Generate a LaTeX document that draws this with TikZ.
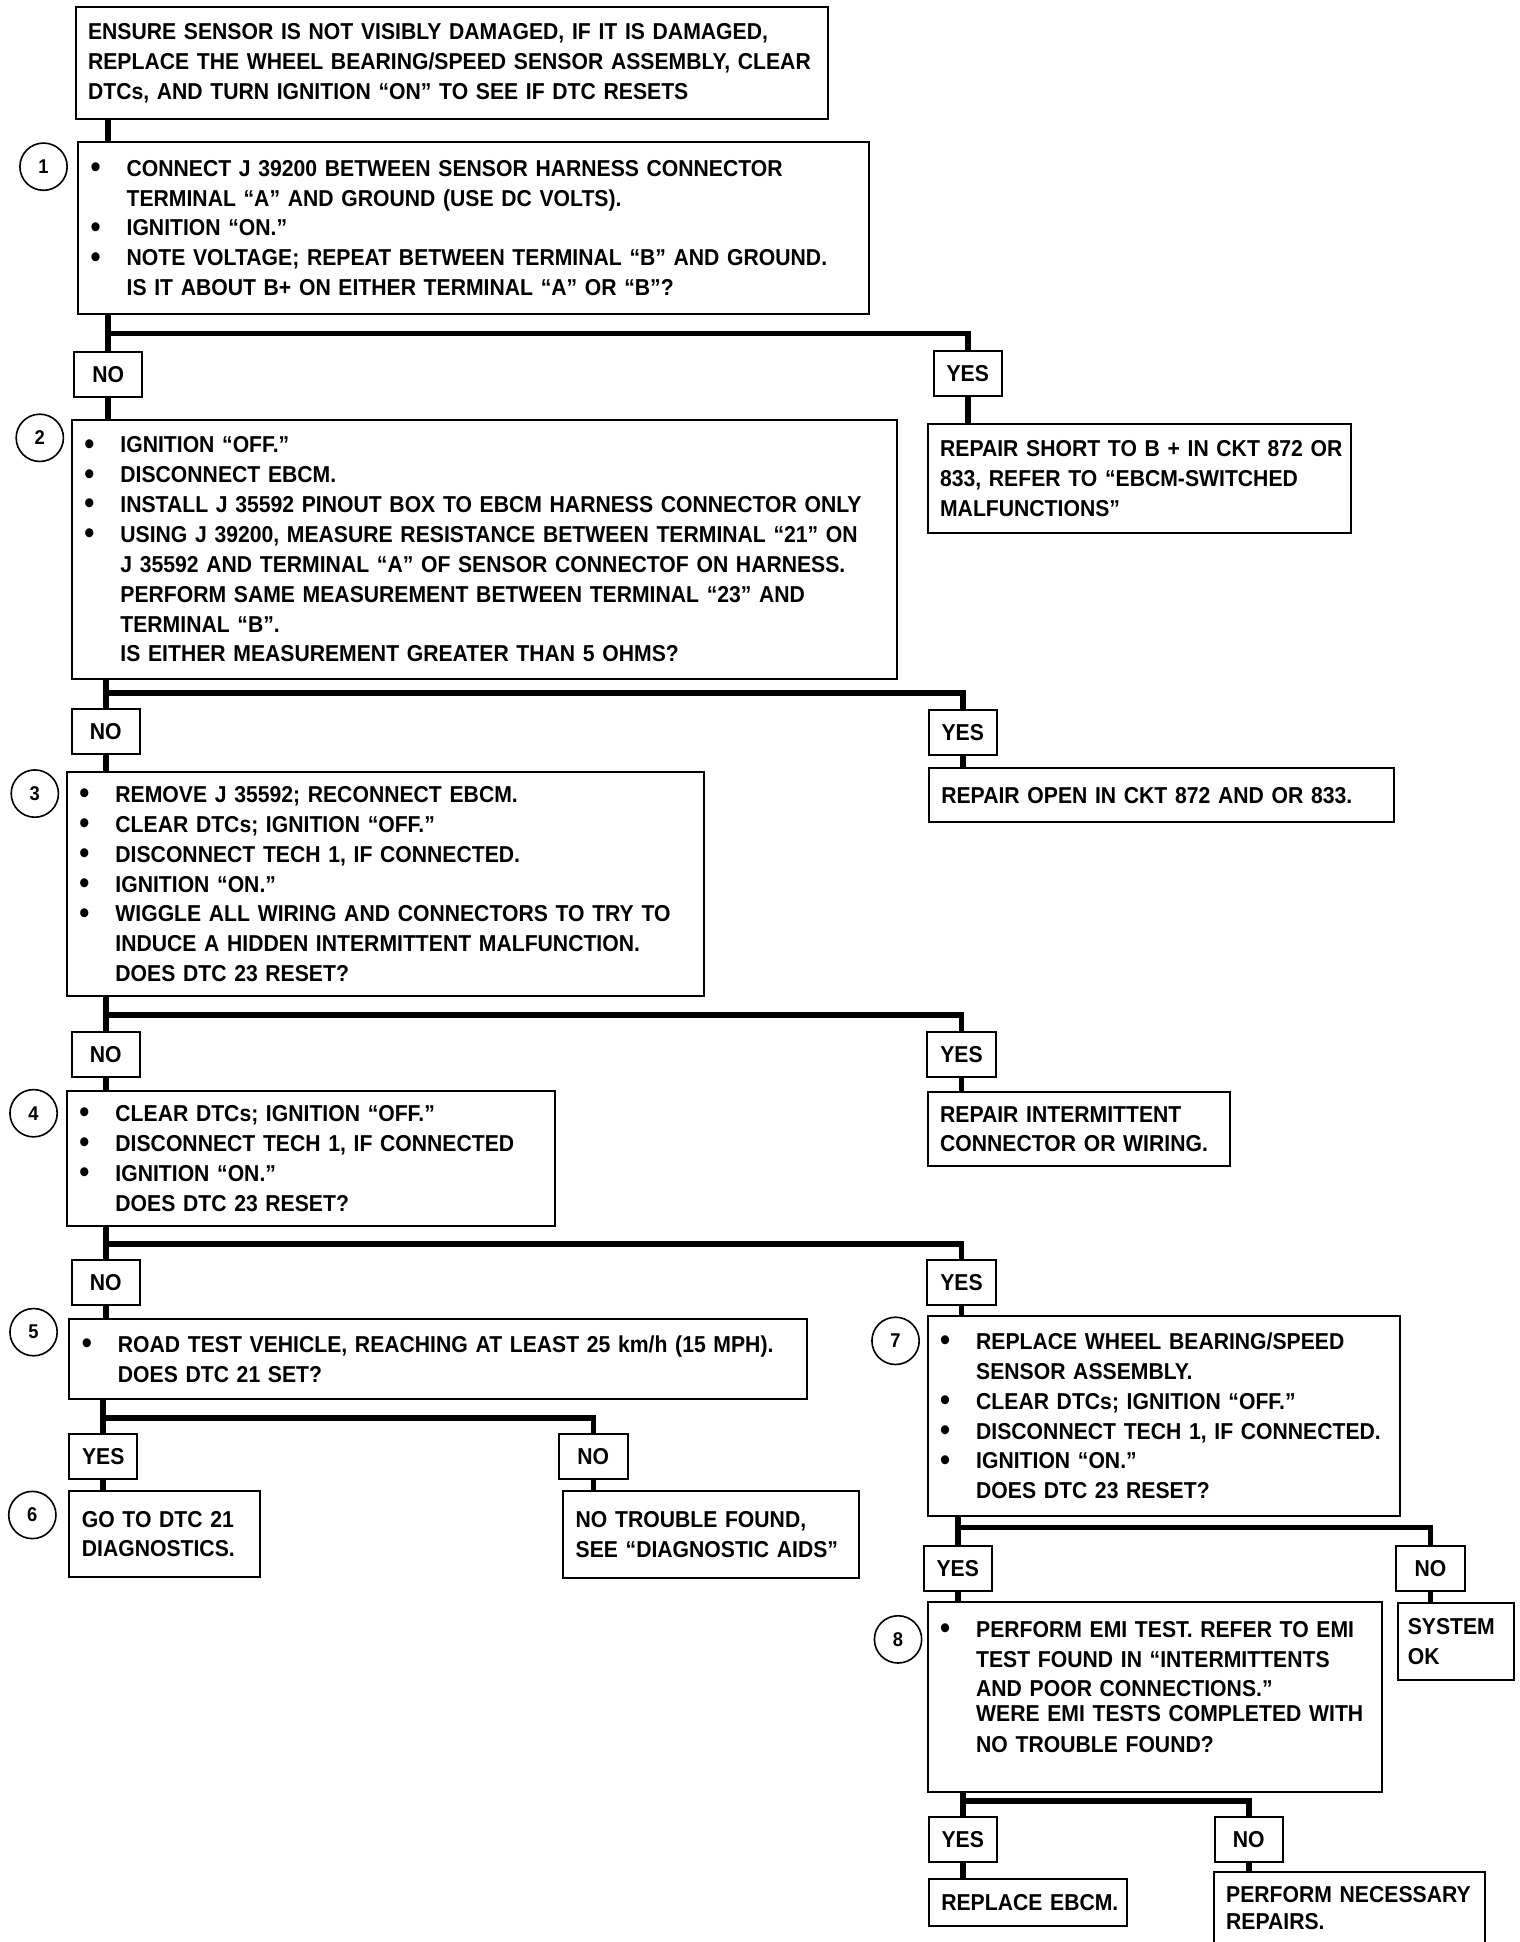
\documentclass[tikz,border=0pt]{standalone}
\usepackage{fontspec}
\setmainfont{Liberation Sans}[FakeStretch=0.92]
\newcommand{\bdot}{{\fontsize{25}{24}\selectfont\raisebox{-1pt}{\textbullet}}}
\newcommand{\bl}[1]{\mbox{\makebox[29pt][l]{\bdot}#1}}
\newcommand{\cl}[1]{\mbox{\hspace*{29pt}#1}}
\newcommand{\pl}[1]{\mbox{#1}}
\begin{document}
\begin{tikzpicture}[x=1pt,y=-1pt,
  every node/.style={font=\bfseries\fontsize{18.5}{24}\selectfont},
  box/.style={draw, line width=1.6pt, anchor=north west, align=left, inner xsep=10pt, inner ysep=2pt},
  yn/.style={draw, line width=1.6pt, minimum width=55pt, minimum height=36pt, inner sep=0pt},
  circ/.style={circle, draw, line width=1.3pt, minimum size=38pt, inner sep=0pt, font=\bfseries\fontsize{16}{16}\selectfont},
  conn/.style={line width=4.5pt}]
\useasboundingbox[fill=white] (0,0) rectangle (1222,1561.3);

% ---------- boxes ----------
\node[box, text width=585pt, minimum height=90pt] (top) at (60,5)
 {\pl{ENSURE SENSOR IS NOT VISIBLY DAMAGED, IF IT IS DAMAGED,}\\
  \pl{REPLACE THE WHEEL BEARING/SPEED SENSOR ASSEMBLY, CLEAR}\\
  \pl{DTCs, AND TURN IGNITION ``ON'' TO SEE IF DTC RESETS}};

\node[box, text width=616pt, minimum height=139pt] (b1) at (62,113)
 {\bl{CONNECT J 39200 BETWEEN SENSOR HARNESS CONNECTOR}\\
  \cl{TERMINAL ``A'' AND GROUND (USE DC VOLTS).}\\
  \bl{IGNITION ``ON.''}\\
  \bl{NOTE VOLTAGE; REPEAT BETWEEN TERMINAL ``B'' AND GROUND.}\\
  \cl{IS IT ABOUT B+ ON EITHER TERMINAL ``A'' OR ``B''?}};

\node[box, text width=320pt, minimum height=88pt] (rs) at (745,340)
 {\pl{REPAIR SHORT TO B + IN CKT 872 OR}\\
  \pl{833, REFER TO ``EBCM-SWITCHED}\\
  \pl{MALFUNCTIONS''}};

\node[box, text width=643pt, minimum height=208pt] (b2) at (57,337)
 {\bl{IGNITION ``OFF.''}\\
  \bl{DISCONNECT EBCM.}\\
  \bl{INSTALL J 35592 PINOUT BOX TO EBCM HARNESS CONNECTOR ONLY}\\
  \bl{USING J 39200, MEASURE RESISTANCE BETWEEN TERMINAL ``21'' ON}\\
  \cl{J 35592 AND TERMINAL ``A'' OF SENSOR CONNECTOF ON HARNESS.}\\
  \cl{PERFORM SAME MEASUREMENT BETWEEN TERMINAL ``23'' AND}\\
  \cl{TERMINAL ``B''.}\\
  \cl{IS EITHER MEASUREMENT GREATER THAN 5 OHMS?}};

\node[box, text width=354pt, minimum height=43pt] (ro) at (746,617)
 {\pl{REPAIR OPEN IN CKT 872 AND OR 833.}};

\node[box, text width=492pt, minimum height=180pt] (b3) at (53,620)
 {\bl{REMOVE J 35592; RECONNECT EBCM.}\\
  \bl{CLEAR DTCs; IGNITION ``OFF.''}\\
  \bl{DISCONNECT TECH 1, IF CONNECTED.}\\
  \bl{IGNITION ``ON.''}\\
  \bl{WIGGLE ALL WIRING AND CONNECTORS TO TRY TO}\\
  \cl{INDUCE A HIDDEN INTERMITTENT MALFUNCTION.}\\
  \cl{DOES DTC 23 RESET?}};

\node[box, text width=223pt, minimum height=60pt] (ri) at (745,877)
 {\pl{REPAIR INTERMITTENT}\\
  \pl{CONNECTOR OR WIRING.}};

\node[box, text width=372pt, minimum height=109pt] (b4) at (53,876)
 {\bl{CLEAR DTCs; IGNITION ``OFF.''}\\
  \bl{DISCONNECT TECH 1, IF CONNECTED}\\
  \bl{IGNITION ``ON.''}\\
  \cl{DOES DTC 23 RESET?}};

\node[box, text width=573pt, minimum height=64pt] (b5) at (55,1060)
 {\bl{ROAD TEST VEHICLE, REACHING AT LEAST 25 km/h (15 MPH).}\\
  \cl{DOES DTC 21 SET?}};

\node[box, text width=360pt, minimum height=161pt] (b7) at (745,1057)
 {\bl{REPLACE WHEEL BEARING/SPEED}\\
  \cl{SENSOR ASSEMBLY.}\\
  \bl{CLEAR DTCs; IGNITION ``OFF.''}\\
  \bl{DISCONNECT TECH 1, IF CONNECTED.}\\
  \bl{IGNITION ``ON.''}\\
  \cl{DOES DTC 23 RESET?}};

\node[box, text width=133pt, minimum height=69pt] (b6) at (55,1198)
 {\pl{GO TO DTC 21}\\
  \pl{DIAGNOSTICS.}};

\node[box, text width=218pt, minimum height=70pt] (ntf) at (452,1198)
 {\pl{NO TROUBLE FOUND,}\\
  \pl{SEE ``DIAGNOSTIC AIDS''}};

\node[box, inner xsep=8pt, text width=77pt, minimum height=62pt] (sysok) at (1123,1288)
 {\pl{SYSTEM}\\
  \pl{OK}};

\node[box, text width=345pt, minimum height=153pt] (b8) at (745,1287)
 {\bl{PERFORM EMI TEST. REFER TO EMI}\\
  \cl{TEST FOUND IN ``INTERMITTENTS}\\
  \cl{AND POOR CONNECTIONS.''}\\[-4pt]
  \cl{WERE EMI TESTS COMPLETED WITH}\\[1pt]
  \cl{NO TROUBLE FOUND?}\\[-8pt]
  \mbox{}};

\node[box, text width=139pt, minimum height=38pt] (repl) at (746,1510)
 {\pl{REPLACE EBCM.}};

\node[box, text width=198pt, minimum height=58pt] (pnr) at (975,1504)
 {\pl{PERFORM NECESSARY}\\[-2pt]
  \pl{REPAIRS.}};

% ---------- YES / NO ----------
\node[yn] (no1)  at (87,301)   {NO};
\node[yn] (yes1) at (778,300)  {YES};
\node[yn] (no2)  at (85,588)   {NO};
\node[yn] (yes2) at (774,589)  {YES};
\node[yn] (no3)  at (85,848)   {NO};
\node[yn] (yes3) at (773,848)  {YES};
\node[yn] (no4)  at (85,1031)  {NO};
\node[yn] (yes4) at (773,1031) {YES};
\node[yn] (yes5) at (83,1171)  {YES};
\node[yn] (no5)  at (477,1171) {NO};
\node[yn] (yes7) at (770,1261) {YES};
\node[yn] (no7)  at (1150,1261) {NO};
\node[yn] (yes8) at (774,1479) {YES};
\node[yn] (no8)  at (1004,1479) {NO};

% ---------- step numbers ----------
\node[circ] (c1) at (35,134)  {1};
\node[circ] (c2) at (32,352)  {2};
\node[circ] (c3) at (28,638)  {3};
\node[circ] (c4) at (27,895)  {4};
\node[circ] (c5) at (27,1071) {5};
\node[circ] (c6) at (26,1218) {6};
\node[circ] (c7) at (720,1078) {7};
\node[circ] (c8) at (722,1318) {8};

% ---------- junctions ----------
\coordinate (j1) at (87,268);
\coordinate (j2) at (85,557);
\coordinate (j3) at (85,816);
\coordinate (j4) at (85,1000);
\coordinate (j5) at (83,1140);
\coordinate (j7) at (770,1228);
\coordinate (j8) at (774,1448);

% ---------- connectors ----------
\draw[conn] (top.south -| no1.north) -- (b1.north -| no1.north);

\draw[conn] (b1.south -| no1.north) -- (no1.north);
\draw[conn] (j1) -| (yes1.north);
\draw[conn] (no1.south) -- (b2.north -| no1.south);
\draw[conn] (yes1.south) -- (rs.north -| yes1.south);

\draw[conn] (b2.south -| no2.north) -- (no2.north);
\draw[conn] (j2) -| (yes2.north);
\draw[conn] (no2.south) -- (b3.north -| no2.south);
\draw[conn] (yes2.south) -- (ro.north -| yes2.south);

\draw[conn] (b3.south -| no3.north) -- (no3.north);
\draw[conn] (j3) -| (yes3.north);
\draw[conn] (no3.south) -- (b4.north -| no3.south);
\draw[conn] (yes3.south) -- (ri.north -| yes3.south);

\draw[conn] (b4.south -| no4.north) -- (no4.north);
\draw[conn] (j4) -| (yes4.north);
\draw[conn] (no4.south) -- (b5.north -| no4.south);
\draw[conn] (yes4.south) -- (b7.north -| yes4.south);

\draw[conn] (b5.south -| yes5.north) -- (yes5.north);
\draw[conn] (j5) -| (no5.north);
\draw[conn] (yes5.south) -- (b6.north -| yes5.south);
\draw[conn] (no5.south) -- (ntf.north -| no5.south);

\draw[conn] (b7.south -| yes7.north) -- (yes7.north);
\draw[conn] (j7) -| (no7.north);
\draw[conn] (yes7.south) -- (b8.north -| yes7.south);
\draw[conn] (no7.south) -- (sysok.north -| no7.south);

\draw[conn] (b8.south -| yes8.north) -- (yes8.north);
\draw[conn] (j8) -| (no8.north);
\draw[conn] (yes8.south) -- (repl.north -| yes8.south);
\draw[conn] (no8.south) -- (pnr.north -| no8.south);
\end{tikzpicture}
\end{document}
